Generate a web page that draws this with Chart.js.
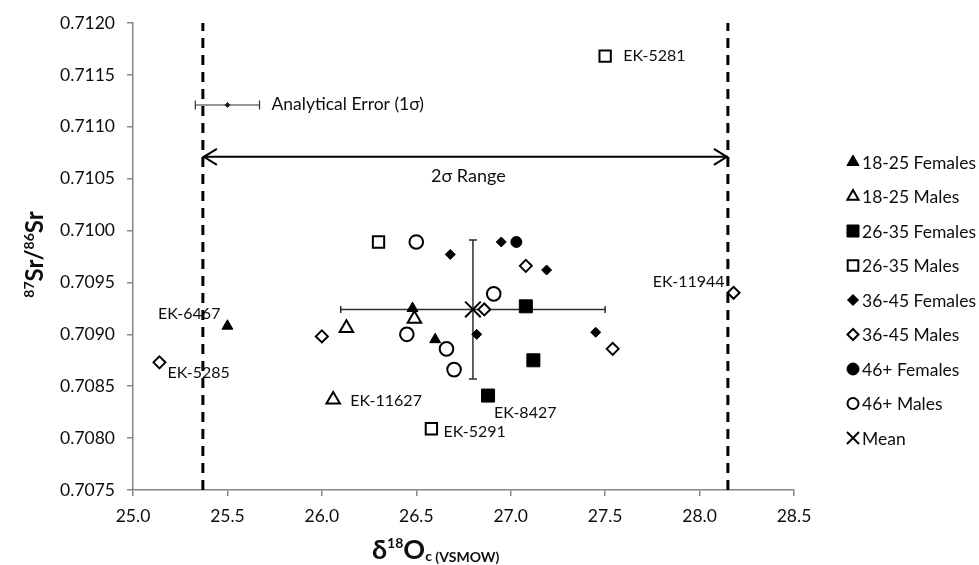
<!DOCTYPE html>
<html>
<head>
<meta charset="utf-8">
<script src="https://cdn.jsdelivr.net/npm/chart.js@4/dist/chart.umd.min.js"></script>
<style>
  html, body { margin: 0; padding: 0; background: #fff; }
</style>
</head>
<body>
<canvas id="chart" width="979" height="565"></canvas>
<script>
// values (d18O, 87Sr/86Sr)
var f1825X = [25.50, 26.48, 26.60];
var f1825Y = [0.70908, 0.70925, 0.70895];
var m1825X = [26.06, 26.13, 26.49];
var m1825Y = [0.70837, 0.70906, 0.70915];
var f2635X = [26.88, 27.08, 27.12];
var f2635Y = [0.70841, 0.70927, 0.70875];
var m2635X = [26.30, 26.58, 27.50];
var m2635Y = [0.70989, 0.70809, 0.71168];
var f3645X = [26.68, 26.82, 26.95, 27.19, 27.45];
var f3645Y = [0.70977, 0.70900, 0.70989, 0.70962, 0.70902];
var m3645X = [25.14, 26.00, 26.86, 27.08, 27.54, 28.18];
var m3645Y = [0.70873, 0.70898, 0.70924, 0.70966, 0.70886, 0.70940];
var f46X = [27.03];
var f46Y = [0.70989];
var m46X = [26.45, 26.50, 26.66, 26.70, 26.91];
var m46Y = [0.70900, 0.70989, 0.70886, 0.70866, 0.70939];

var meanX = [26.80];
var meanY = [0.70924];
var meanErrX = 0.70;
var meanErrY = 0.00067;

var analyticalX = [25.50];
var analyticalY = [0.71121];
var analyticalErrX = 0.17;

var twoSigmaLow = 25.37;
var twoSigmaHigh = 28.15;
var twoSigmaY = 0.71071;

var xTicks = [25.0, 25.5, 26.0, 26.5, 27.0, 27.5, 28.0, 28.5];
var yTicks = [0.7075, 0.7080, 0.7085, 0.7090, 0.7095, 0.7100, 0.7105, 0.7110, 0.7115, 0.7120];

var calloutNames = ['EK-5281', 'EK-11944', 'EK-8427', 'EK-5291', 'EK-6467', 'EK-5285', 'EK-11627'];
var calloutX = [27.50, 28.18, 26.88, 26.58, 25.50, 25.14, 26.06];
var calloutY = [0.71168, 0.70940, 0.70841, 0.70809, 0.70908, 0.70873, 0.70837];

// label placement relative to the marker (pixels)
var calloutPos = {
  'EK-5281': [18, 0, 'left'],
  'EK-11944': [-9, -11, 'right'],
  'EK-8427': [6, 17, 'left'],
  'EK-5291': [12, 3, 'left'],
  'EK-6467': [-7, -12, 'right'],
  'EK-5285': [8, 10, 'left'],
  'EK-11627': [17, 1, 'left']
};

var FONT = 'Lato, "Open Sans", "DejaVu Sans", sans-serif';
var TEXT = '#0e0e0e';
var AXIS = '#868686';

function pts(xs, ys) {
  return xs.map(function (x, i) { return { x: x, y: ys[i] }; });
}

function markerSet(label, xs, ys, shape, radius, filled, bw, legendRadius) {
  return {
    label: label,
    data: pts(xs, ys),
    pointStyle: shape,
    pointRadius: radius,
    pointHoverRadius: radius,
    backgroundColor: filled ? '#000' : '#fff',
    borderColor: '#000',
    borderWidth: bw,
    showLine: false,
    inLegend: true,
    legendRadius: legendRadius
  };
}

var datasets = [
  markerSet('18-25 Females', f1825X, f1825Y, 'triangle', 6.3, true, 1, 7),
  markerSet('18-25 Males', m1825X, m1825Y, 'triangle', 7.8, false, 2, 6.5),
  markerSet('26-35 Females', f2635X, f2635Y, 'rect', 9.2, true, 1, 8.5),
  markerSet('26-35 Males', m2635X, m2635Y, 'rect', 8, false, 2, 7.5),
  markerSet('36-45 Females', f3645X, f3645Y, 'rectRot', 5, true, 1, 5.5),
  markerSet('36-45 Males', m3645X, m3645Y, 'rectRot', 6, false, 2, 5.5),
  markerSet('46+ Females', f46X, f46Y, 'circle', 5.5, true, 1, 6),
  markerSet('46+ Males', m46X, m46Y, 'circle', 6.8, false, 2, 5.5),
  {
    label: 'Mean',
    data: pts(meanX, meanY),
    pointStyle: 'crossRot',
    pointRadius: 11,
    pointHoverRadius: 11,
    borderColor: '#000',
    borderWidth: 2,
    showLine: false,
    inLegend: true,
    legendRadius: 8.5
  },
  {
    label: 'Analytical Error',
    data: pts(analyticalX, analyticalY),
    pointStyle: 'rectRot',
    pointRadius: 2.5,
    backgroundColor: '#222',
    borderColor: '#222',
    borderWidth: 1,
    showLine: false
  },
  {
    label: '2s low',
    data: [{ x: twoSigmaLow, y: yTicks[0] }, { x: twoSigmaLow, y: yTicks[yTicks.length - 1] }],
    showLine: true,
    borderColor: '#000',
    borderWidth: 3,
    borderDash: [10, 7],
    pointRadius: 0
  },
  {
    label: '2s high',
    data: [{ x: twoSigmaHigh, y: yTicks[0] }, { x: twoSigmaHigh, y: yTicks[yTicks.length - 1] }],
    showLine: true,
    borderColor: '#000',
    borderWidth: 3,
    borderDash: [10, 7],
    pointRadius: 0
  },
  {
    label: '2s range',
    data: [{ x: twoSigmaLow, y: twoSigmaY }, { x: twoSigmaHigh, y: twoSigmaY }],
    showLine: true,
    borderColor: '#000',
    borderWidth: 2,
    pointRadius: 0
  }
];

// draws a run of text pieces (normal / super / subscript) starting at x
function drawRuns(ctx, runs, x, y, centered) {
  var total = 0;
  runs.forEach(function (r) { ctx.font = r.font; total += ctx.measureText(r.text).width; });
  var cx = centered ? x - total / 2 : x;
  runs.forEach(function (r) {
    ctx.font = r.font;
    ctx.fillText(r.text, cx, y + (r.dy || 0));
    cx += ctx.measureText(r.text).width;
  });
}

function hBar(ctx, x1, x2, y, cap) {
  ctx.beginPath();
  ctx.moveTo(x1, y); ctx.lineTo(x2, y);
  ctx.moveTo(x1, y - cap); ctx.lineTo(x1, y + cap);
  ctx.moveTo(x2, y - cap); ctx.lineTo(x2, y + cap);
  ctx.stroke();
}

function vBar(ctx, x, y1, y2, cap) {
  ctx.beginPath();
  ctx.moveTo(x, y1); ctx.lineTo(x, y2);
  ctx.moveTo(x - cap, y1); ctx.lineTo(x + cap, y1);
  ctx.moveTo(x - cap, y2); ctx.lineTo(x + cap, y2);
  ctx.stroke();
}

var overlay = {
  id: 'overlay',
  beforeDatasetsDraw: function (chart) {
    var ctx = chart.ctx, xs = chart.scales.x, ys = chart.scales.y;
    ctx.save();
    ctx.strokeStyle = '#2e2e2e';
    ctx.lineWidth = 1.5;
    var mx = xs.getPixelForValue(meanX[0]), my = ys.getPixelForValue(meanY[0]);
    hBar(ctx, xs.getPixelForValue(meanX[0] - meanErrX), xs.getPixelForValue(meanX[0] + meanErrX), my, 3.5);
    vBar(ctx, mx, ys.getPixelForValue(meanY[0] + meanErrY), ys.getPixelForValue(meanY[0] - meanErrY), 4);
    ctx.lineWidth = 1.2;
    hBar(ctx, xs.getPixelForValue(analyticalX[0] - analyticalErrX), xs.getPixelForValue(analyticalX[0] + analyticalErrX),
      ys.getPixelForValue(analyticalY[0]), 4.5);
    ctx.restore();
  },
  afterDatasetsDraw: function (chart) {
    var ctx = chart.ctx, xs = chart.scales.x, ys = chart.scales.y;
    ctx.save();
    // arrow heads of the 2 sigma range
    var ay = ys.getPixelForValue(twoSigmaY);
    var ax1 = xs.getPixelForValue(twoSigmaLow), ax2 = xs.getPixelForValue(twoSigmaHigh);
    ctx.strokeStyle = '#000';
    ctx.lineWidth = 2;
    ctx.beginPath();
    ctx.moveTo(ax1 + 14, ay - 8); ctx.lineTo(ax1 + 1, ay); ctx.lineTo(ax1 + 14, ay + 8);
    ctx.moveTo(ax2 - 14, ay - 8); ctx.lineTo(ax2 - 1, ay); ctx.lineTo(ax2 - 14, ay + 8);
    ctx.stroke();

    ctx.fillStyle = TEXT;
    ctx.textBaseline = 'middle';
    ctx.font = '18px ' + FONT;
    ctx.textAlign = 'center';
    ctx.fillText('2σ Range', (ax1 + ax2) / 2 + 3, ay + 19);
    ctx.font = '17.5px ' + FONT;
    ctx.textAlign = 'left';
    ctx.fillText('Analytical Error (1σ)',
      xs.getPixelForValue(analyticalX[0] + analyticalErrX) + 12, ys.getPixelForValue(analyticalY[0]) - 1);

    ctx.font = '16px ' + FONT;
    calloutNames.forEach(function (name, i) {
      var p = calloutPos[name];
      ctx.textAlign = p[2];
      ctx.fillText(name, xs.getPixelForValue(calloutX[i]) + p[0], ys.getPixelForValue(calloutY[i]) + p[1]);
    });
    ctx.restore();
  },
  afterDraw: function (chart) {
    var ctx = chart.ctx, area = chart.chartArea;
    ctx.save();
    // legend
    var items = chart.data.datasets.filter(function (d) { return d.inLegend; });
    items.forEach(function (d, i) {
      var y = 162 + i * 34.5;
      ctx.fillStyle = d.backgroundColor || '#000';
      ctx.strokeStyle = '#000';
      ctx.lineWidth = d.borderWidth;
      Chart.helpers.drawPoint(ctx, { pointStyle: d.pointStyle, radius: d.legendRadius, borderWidth: d.borderWidth, rotation: 0 }, 853, y);
      ctx.fillStyle = TEXT;
      ctx.font = '17.5px ' + FONT;
      ctx.textAlign = 'left';
      ctx.textBaseline = 'middle';
      ctx.fillText(d.label, 862, y + 1);
    });

    // axis titles with super/subscripts
    ctx.fillStyle = TEXT;
    ctx.textBaseline = 'alphabetic';
    ctx.textAlign = 'left';
    var big = 'bold 27px ' + FONT, small = 'bold 14px ' + FONT, tiny = 'bold 14px ' + FONT;
    drawRuns(ctx, [
      { text: 'δ', font: big },
      { text: '18', font: small, dy: -11 },
      { text: 'O', font: big },
      { text: 'c', font: small, dy: 2 },
      { text: ' (VSMOW)', font: tiny, dy: 3 }
    ], 372, 559, false);

    ctx.translate(43, (area.top + area.bottom) / 2 - 2);
    ctx.rotate(-Math.PI / 2);
    drawRuns(ctx, [
      { text: '87', font: small, dy: -9 },
      { text: 'Sr/', font: 'bold 24px ' + FONT },
      { text: '86', font: small, dy: -9 },
      { text: 'Sr', font: 'bold 24px ' + FONT }
    ], 0, 0, true);
    ctx.restore();
  }
};

function axisOptions(min, max, list, digits, isY) {
  return {
    type: 'linear',
    min: min,
    max: max,
    afterBuildTicks: function (s) { s.ticks = list.map(function (v) { return { value: v }; }); },
    afterFit: function (s) { if (isY) { s.width = 133; } else { s.height = 75; } },
    ticks: {
      color: TEXT,
      font: { family: FONT, size: 17.5 },
      padding: isY ? 12 : 10,
      callback: function (v) { return Number(v).toFixed(digits); }
    },
    grid: { drawOnChartArea: false, drawTicks: true, tickLength: 6, color: AXIS, lineWidth: 1.5 },
    border: { color: AXIS, width: 1.5 }
  };
}

var chart = new Chart(document.getElementById('chart').getContext('2d'), {
  type: 'scatter',
  data: { datasets: datasets },
  options: {
    responsive: false,
    animation: false,
    events: [],
    layout: { padding: { top: 23, right: 185, bottom: 0, left: 0 } },
    plugins: { legend: { display: false }, tooltip: { enabled: false } },
    scales: {
      x: axisOptions(xTicks[0], xTicks[xTicks.length - 1], xTicks, 1, false),
      y: axisOptions(yTicks[0], yTicks[yTicks.length - 1], yTicks, 4, true)
    }
  },
  plugins: [overlay]
});
</script>
</body>
</html>
